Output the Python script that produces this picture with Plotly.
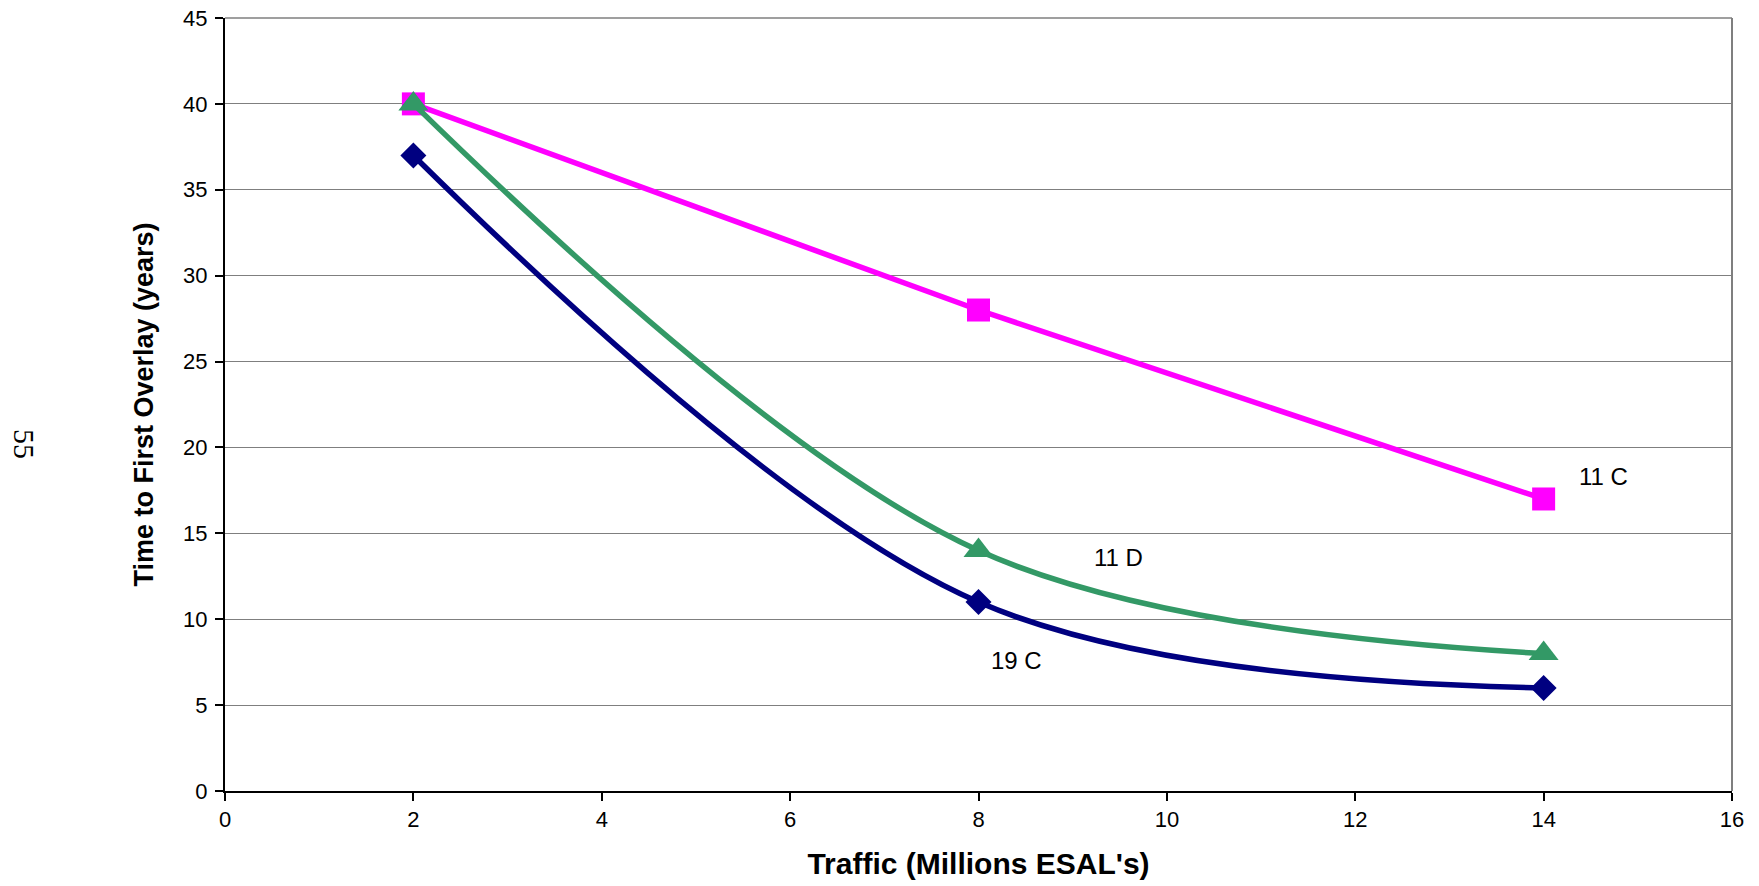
import plotly.graph_objects as go

traffic = [2, 8, 14]
series_names = ["11 C", "11 D", "19 C"]
values_11c = [40, 28, 17]
values_11d = [40, 14, 8]
values_19c = [37, 11, 6]

x_ticks = [0, 2, 4, 6, 8, 10, 12, 14, 16]
y_ticks = [0, 5, 10, 15, 20, 25, 30, 35, 40, 45]

# label positions (data coords) for the series names
label_x = [14.64, 9.49, 8.40]
label_y = [18.3, 13.6, 7.6]

W, H = 1759, 886
L, R, T, B = 225, 27, 18, 95

fig = go.Figure()

fig.add_trace(go.Scatter(
    x=traffic, y=values_11c, name="11 C", mode="lines+markers",
    line=dict(color="#FF00FF", width=5.5),
    marker=dict(symbol="square", size=23, color="#FF00FF"),
))
fig.add_trace(go.Scatter(
    x=traffic, y=values_11d, name="11 D", mode="lines+markers",
    line=dict(color="#339966", width=5.5, shape="spline", smoothing=1),
    marker=dict(symbol="triangle-up", size=26, color="#339966"),
))
fig.add_trace(go.Scatter(
    x=traffic, y=values_19c, name="19 C", mode="lines+markers",
    line=dict(color="#000080", width=5.5, shape="spline", smoothing=1),
    marker=dict(symbol="diamond", size=20, color="#000080"),
))

for name, lx, ly in zip(series_names, label_x, label_y):
    fig.add_annotation(x=lx, y=ly, xref="x", yref="y", text=name, showarrow=False,
                       font=dict(family="Liberation Sans, Arial", size=24, color="black"))

# page number at far left (pixel position converted to paper coords)
plot_w = W - L - R
plot_h = H - T - B
px, py = 25, 444
fig.add_annotation(x=(px - L) / plot_w, y=(H - B - py) / plot_h, xref="paper", yref="paper",
                   xanchor="center", yanchor="middle",
                   text="55", showarrow=False, textangle=90,
                   font=dict(family="Liberation Serif", size=30, color="black"))

fig.update_layout(
    width=W, height=H,
    margin=dict(l=L, r=R, t=T, b=B),
    plot_bgcolor="white", paper_bgcolor="white",
    showlegend=False,
    font=dict(family="Liberation Sans, Arial", color="black"),
)

fig.update_xaxes(
    range=[0, 16], tickvals=x_ticks, ticktext=[str(v) for v in x_ticks],
    showgrid=False, zeroline=False, automargin=False,
    showline=True, linecolor="black", linewidth=2,
    ticks="outside", ticklen=8, tickcolor="black", tickwidth=1.5,
    tickfont=dict(size=22), ticklabeloverflow="allow",
    title=dict(text="<b>Traffic (Millions ESAL's)</b>", font=dict(size=30), standoff=22),
)
fig.update_yaxes(
    range=[0, 45], tickvals=y_ticks, ticktext=[str(v) for v in y_ticks],
    showgrid=True, gridcolor="#7f7f7f", gridwidth=1.2, zeroline=False, automargin=False,
    showline=True, linecolor="black", linewidth=2,
    ticks="outside", ticklen=8, tickcolor="black", tickwidth=1.5,
    tickfont=dict(size=22), ticklabelstandoff=3, ticklabeloverflow="allow",
    title=dict(text="<b>Time to First Overlay (years)</b>", font=dict(size=27), standoff=22),
)

# top and right border of plot area (grey)
fig.add_shape(type="line", xref="paper", yref="paper", x0=1, x1=1, y0=0, y1=1,
              line=dict(color="#7f7f7f", width=2), layer="below")
fig.add_shape(type="line", xref="paper", yref="paper", x0=0, x1=1, y0=1, y1=1,
              line=dict(color="#7f7f7f", width=1.5), layer="below")

# remove the default page margin so the figure fills the window exactly
fig.write_html(
    "out.html",
    config={"displayModeBar": False},
    post_script="document.body.style.margin='0px'; document.body.style.overflow='hidden';",
)
